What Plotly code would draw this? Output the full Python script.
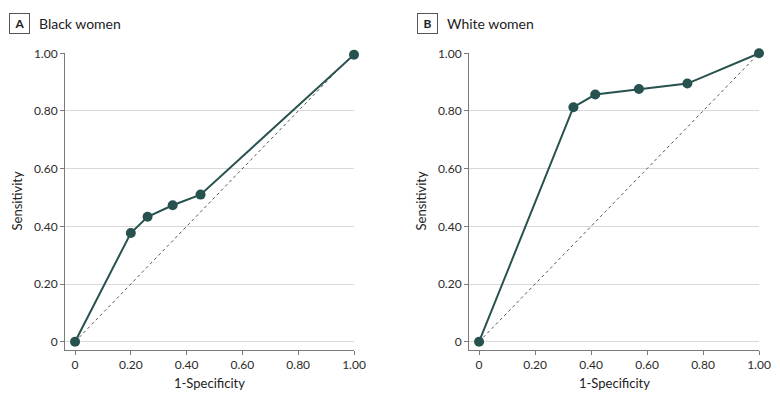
import plotly.graph_objects as go

# Data
black_fpr = [0, 0.20, 0.26, 0.35, 0.45, 1.0]
black_sens = [0, 0.377, 0.433, 0.473, 0.51, 0.995]
white_fpr = [0, 0.337, 0.415, 0.571, 0.744, 1.0]
white_sens = [0, 0.813, 0.857, 0.876, 0.895, 1.0]
diag = [0, 1]
tick_vals = [0, 0.2, 0.4, 0.6, 0.8, 1.0]
tick_text = ["0", "0.20", "0.40", "0.60", "0.80", "1.00"]
panel_labels = ["A", "B"]
panel_titles = ["Black women", "White women"]

LINE = "#27524f"
FONT = "Lato"

fig = go.Figure()
for i, (xs, ys) in enumerate([(black_fpr, black_sens), (white_fpr, white_sens)]):
    xa = "x" if i == 0 else "x2"
    ya = "y" if i == 0 else "y2"
    fig.add_trace(go.Scatter(x=diag, y=diag, mode="lines", xaxis=xa, yaxis=ya,
                             line=dict(color="#555555", width=1, dash="dot"),
                             hoverinfo="skip", showlegend=False, cliponaxis=False))
    fig.add_trace(go.Scatter(x=xs, y=ys, mode="lines+markers", xaxis=xa, yaxis=ya,
                             line=dict(color=LINE, width=2),
                             marker=dict(color=LINE, size=10),
                             showlegend=False, cliponaxis=False))

W, H = 780, 405
domA = [65 / W, 354 / W]
domB = [469 / W, 759 / W]
ydom = [(H - 349.5) / H, (H - 53.3) / H]

axis_common = dict(
    showline=True, linecolor="#7a7a7a", linewidth=1,
    ticks="outside", ticklen=4, tickcolor="#7a7a7a", tickwidth=1,
    tickvals=tick_vals, ticktext=tick_text,
    tickfont=dict(family=FONT, size=12, color="#2b2b2b"),
    zeroline=False, automargin=False,
)
xr = [-0.036, 1.0]
yr = [-0.027, 1.0]

fig.update_layout(
    width=W, height=H, autosize=False,
    margin=dict(l=0, r=0, t=0, b=0, pad=0, autoexpand=False),
    paper_bgcolor="white", plot_bgcolor="white",
    font=dict(family=FONT, color="#222222"),
    xaxis=dict(domain=domA, range=xr, showgrid=False, anchor="y", **axis_common),
    yaxis=dict(domain=ydom, range=yr, showgrid=True, gridcolor="#d9d9d9", gridwidth=1,
               anchor="x", **axis_common),
    xaxis2=dict(domain=domB, range=xr, showgrid=False, anchor="y2", **axis_common),
    yaxis2=dict(domain=ydom, range=yr, showgrid=True, gridcolor="#d9d9d9", gridwidth=1,
                anchor="x2", **axis_common),
)

annotations = []
box_x = [19, 427]
title_x = [37, 445]
for i in range(2):
    annotations.append(dict(
        xref="paper", yref="paper", x=box_x[i] / W, y=(H - 24) / H,
        xanchor="center", yanchor="middle", showarrow=False,
        text="<b>" + panel_labels[i] + "</b>",
        font=dict(family=FONT, size=12, color="#222222"),
        bordercolor="#555555", borderwidth=1, borderpad=2, width=15, height=15,
    ))
    annotations.append(dict(
        xref="paper", yref="paper", x=title_x[i] / W, y=(H - 24) / H,
        xanchor="left", yanchor="middle", showarrow=False,
        text=panel_titles[i], font=dict(family=FONT, size=14, color="#222222"),
    ))
    dom = domA if i == 0 else domB
    annotations.append(dict(
        xref="paper", yref="paper", x=(dom[0] + dom[1]) / 2, y=(H - 383) / H,
        xanchor="center", yanchor="middle", showarrow=False,
        text="1-Specificity", font=dict(family=FONT, size=13, color="#222222"),
    ))
    ax_x = [17, 421][i]
    annotations.append(dict(
        xref="paper", yref="paper", x=ax_x / W, y=(ydom[0] + ydom[1]) / 2,
        xanchor="center", yanchor="middle", showarrow=False, textangle=-90,
        text="Sensitivity", font=dict(family=FONT, size=13, color="#222222"),
    ))
fig.update_layout(annotations=annotations)

post = (
    "document.documentElement.style.margin='0';"
    "document.documentElement.style.overflow='hidden';"
    "document.body.style.margin='0';document.body.style.padding='0';"
    "document.body.style.overflow='hidden';"
    "var d=document.getElementsByClassName('plotly-graph-div')[0];"
    "d.style.position='fixed';d.style.top='0px';d.style.left='0px';"
)
fig.write_html("out.html", post_script=post, config={"displayModeBar": False})
